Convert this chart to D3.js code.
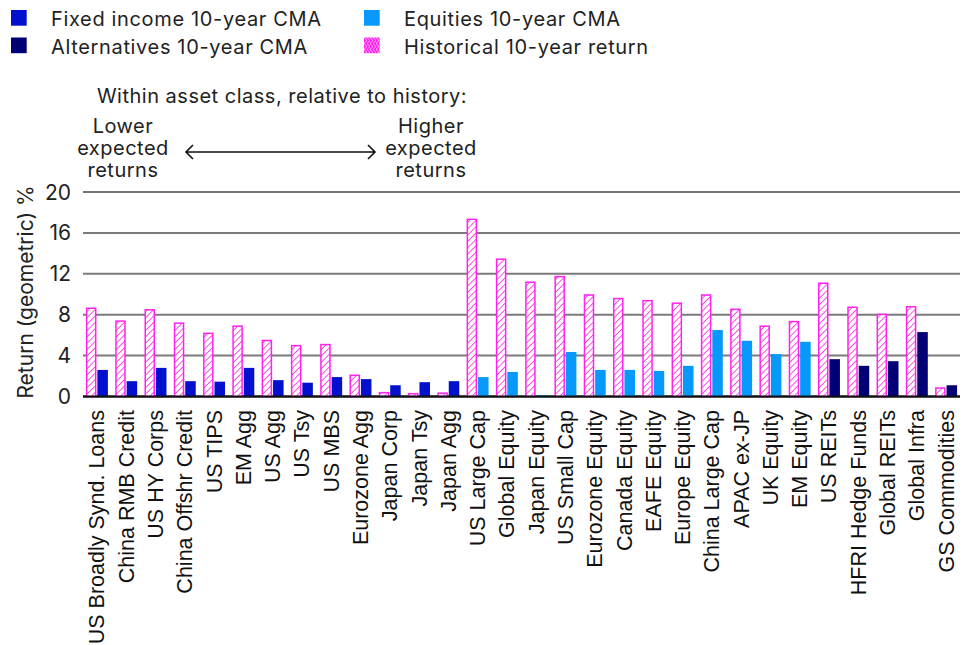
<!DOCTYPE html>
<html>
<head>
<meta charset="utf-8">
<script src="https://cdn.jsdelivr.net/npm/d3@7"></script>
<style>
  body { margin: 0; background: #fff; }
  svg { display: block; }
  .sans { font-family: Inter, "Noto Sans", sans-serif; fill: #222; }
  .xlab { font-family: "Liberation Sans", Arial, sans-serif; fill: #111; font-size: 21.5px; }
</style>
</head>
<body>
<div id="chart"></div>
<script>
//Datos
const categories = ['US Broadly Synd. Loans','China RMB Credit','US HY Corps','China Offshr Credit','US TIPS','EM Agg','US Agg','US Tsy','US MBS','Eurozone Agg','Japan Corp','Japan Tsy','Japan Agg',
  'US Large Cap','Global Equity','Japan Equity','US Small Cap','Eurozone Equity','Canada Equity','EAFE Equity','Europe Equity','China Large Cap','APAC ex-JP','UK Equity','EM Equity',
  'US REITs','HFRI Hedge Funds','Global REITs','Global Infra','GS Commodities'];
const assetClass = ['fixed','fixed','fixed','fixed','fixed','fixed','fixed','fixed','fixed','fixed','fixed','fixed','fixed',
  'equity','equity','equity','equity','equity','equity','equity','equity','equity','equity','equity','equity',
  'alt','alt','alt','alt','alt'];
const historical = [8.7, 7.45, 8.55, 7.25, 6.25, 6.95, 5.55, 5.05, 5.15, 2.15, 0.45, 0.35, 0.4,
  17.4, 13.5, 11.25, 11.8, 10.0, 9.65, 9.45, 9.2, 10.0, 8.6, 6.95, 7.4,
  11.15, 8.8, 8.1, 8.85, 0.9];
const cma = [2.6, 1.5, 2.8, 1.5, 1.45, 2.8, 1.6, 1.35, 1.9, 1.7, 1.1, 1.4, 1.5,
  1.9, 2.4, 0.15, 4.35, 2.6, 2.6, 2.5, 3.0, 6.5, 5.45, 4.15, 5.35,
  3.65, 3.0, 3.45, 6.3, 1.1];
const yTicks = [0, 4, 8, 12, 16, 20];

const COLOR_FIXED = '#0010CC', COLOR_EQUITY = '#0799F9', COLOR_ALT = '#000075', COLOR_PINK = '#FF22EE';
const colorCma = d3.scaleOrdinal().domain(['fixed','equity','alt']).range([COLOR_FIXED, COLOR_EQUITY, COLOR_ALT]);

const width = 969, height = 645;
const svg = d3.select('#chart').append('svg').attr('width', width).attr('height', height);

//Patron rayado
const defs = svg.append('defs');
const pat = defs.append('pattern').attr('id', 'hatch').attr('patternUnits', 'userSpaceOnUse')
  .attr('width', 4.5).attr('height', 4.5).attr('patternTransform', 'rotate(45)');
pat.append('rect').attr('width', 4.5).attr('height', 4.5).attr('fill', '#fff');
pat.append('line').attr('x1', 0).attr('y1', 0).attr('x2', 0).attr('y2', 4.5)
  .attr('stroke', COLOR_PINK).attr('stroke-width', 1.6);
const pat2 = defs.append('pattern').attr('id', 'hatchLegend').attr('patternUnits', 'userSpaceOnUse')
  .attr('width', 3).attr('height', 6);
pat2.append('rect').attr('width', 3).attr('height', 6).attr('fill', COLOR_PINK);
pat2.append('path').attr('d', 'M0,0 L3,3 L0,6').attr('fill', 'none').attr('stroke', '#fff').attr('stroke-width', 0.6);

//Escalas
const x = d3.scaleBand().domain(categories).range([83, 960]).paddingInner(0.25).paddingOuter(0.1);
const xSub = d3.scaleBand().domain(['hist','cma']).range([0, x.bandwidth()]).paddingInner(0.08);
const y = d3.scaleLinear().domain([0, 20]).range([396.5, 192]);

//Rejilla
svg.append('g').selectAll('line').data(yTicks).enter().append('line')
  .attr('x1', 83).attr('x2', 960)
  .attr('y1', d => y(d)).attr('y2', d => y(d))
  .attr('stroke', d => d === 0 ? '#111' : (d === 20 ? '#444' : '#7a7a7a'))
  .attr('stroke-width', d => d === 20 ? 1.5 : 2);

//Eje Y
svg.append('g').selectAll('text').data(yTicks).enter().append('text')
  .attr('class', 'sans').attr('x', 71).attr('y', d => y(d)).attr('dy', '0.36em')
  .attr('text-anchor', 'end').style('font-size', '21px').text(d => d);

svg.append('text').attr('class', 'sans').style('font-size', '21px')
  .attr('transform', 'translate(33,292) rotate(-90)').attr('text-anchor', 'middle')
  .text('Return (geometric) %');

//Barras
const groups = svg.append('g').selectAll('g').data(categories).enter().append('g')
  .attr('transform', d => 'translate(' + x(d) + ',0)');

groups.append('rect')
  .attr('x', xSub('hist') + 0.75).attr('width', xSub.bandwidth() - 1.5)
  .attr('y', (d, i) => y(historical[i]) + 0.75)
  .attr('height', (d, i) => Math.max(0, y(0) - y(historical[i]) - 0.75))
  .attr('fill', 'url(#hatch)').attr('stroke', COLOR_PINK).attr('stroke-width', 1.5);

groups.append('rect')
  .attr('x', xSub('cma')).attr('width', xSub.bandwidth())
  .attr('y', (d, i) => y(cma[i]))
  .attr('height', (d, i) => y(0) - y(cma[i]))
  .attr('fill', (d, i) => colorCma(assetClass[i]));

//Linea base
svg.append('line').attr('x1', 83).attr('x2', 960).attr('y1', y(0)).attr('y2', y(0))
  .attr('stroke', '#111').attr('stroke-width', 2);

//Etiquetas eje X
svg.append('g').selectAll('text').data(categories).enter().append('text')
  .attr('class', 'xlab')
  .attr('transform', d => 'translate(' + (x(d) + x.bandwidth() / 2) + ',410) rotate(-90)')
  .attr('dy', '0.35em').attr('text-anchor', 'end').text(d => d);

//Leyenda
const legendItems = [
  {label: 'Fixed income 10-year CMA', fill: COLOR_FIXED, x: 11, y: 10},
  {label: 'Equities 10-year CMA', fill: COLOR_EQUITY, x: 364, y: 10},
  {label: 'Alternatives 10-year CMA', fill: COLOR_ALT, x: 11, y: 37.5},
  {label: 'Historical 10-year return', fill: 'url(#hatchLegend)', x: 364, y: 37.5}
];
const legend = svg.append('g').selectAll('g').data(legendItems).enter().append('g')
  .attr('transform', d => 'translate(' + d.x + ',' + d.y + ')');
legend.append('rect').attr('width', 15.7).attr('height', 15.7).attr('fill', d => d.fill);
legend.append('text').attr('class', 'sans').attr('x', 40).attr('y', 16)
  .style('font-size', '20px').style('letter-spacing', '0.65px').text(d => d.label);

//Anotacion
svg.append('text').attr('class', 'sans').attr('x', 282).attr('y', 103)
  .attr('text-anchor', 'middle').style('font-size', '20px').style('letter-spacing', '0.5px')
  .text('Within asset class, relative to history:');

const leftLines = ['Lower', 'expected', 'returns'];
const rightLines = ['Higher', 'expected', 'returns'];
svg.append('text').attr('class', 'sans').attr('text-anchor', 'middle')
  .style('font-size', '20px').style('letter-spacing', '0.5px')
  .selectAll('tspan').data(leftLines).enter().append('tspan')
  .attr('x', 123).attr('y', (d, i) => 133 + i * 22).text(d => d);
svg.append('text').attr('class', 'sans').attr('text-anchor', 'middle')
  .style('font-size', '20px').style('letter-spacing', '0.5px')
  .selectAll('tspan').data(rightLines).enter().append('tspan')
  .attr('x', 431).attr('y', (d, i) => 133 + i * 22).text(d => d);

svg.append('path')
  .attr('d', 'M186,152 L375,152 M193,145 L186,152 L193,159 M368,145 L375,152 L368,159')
  .attr('fill', 'none').attr('stroke', '#111').attr('stroke-width', 1.6);
</script>
</body>
</html>
